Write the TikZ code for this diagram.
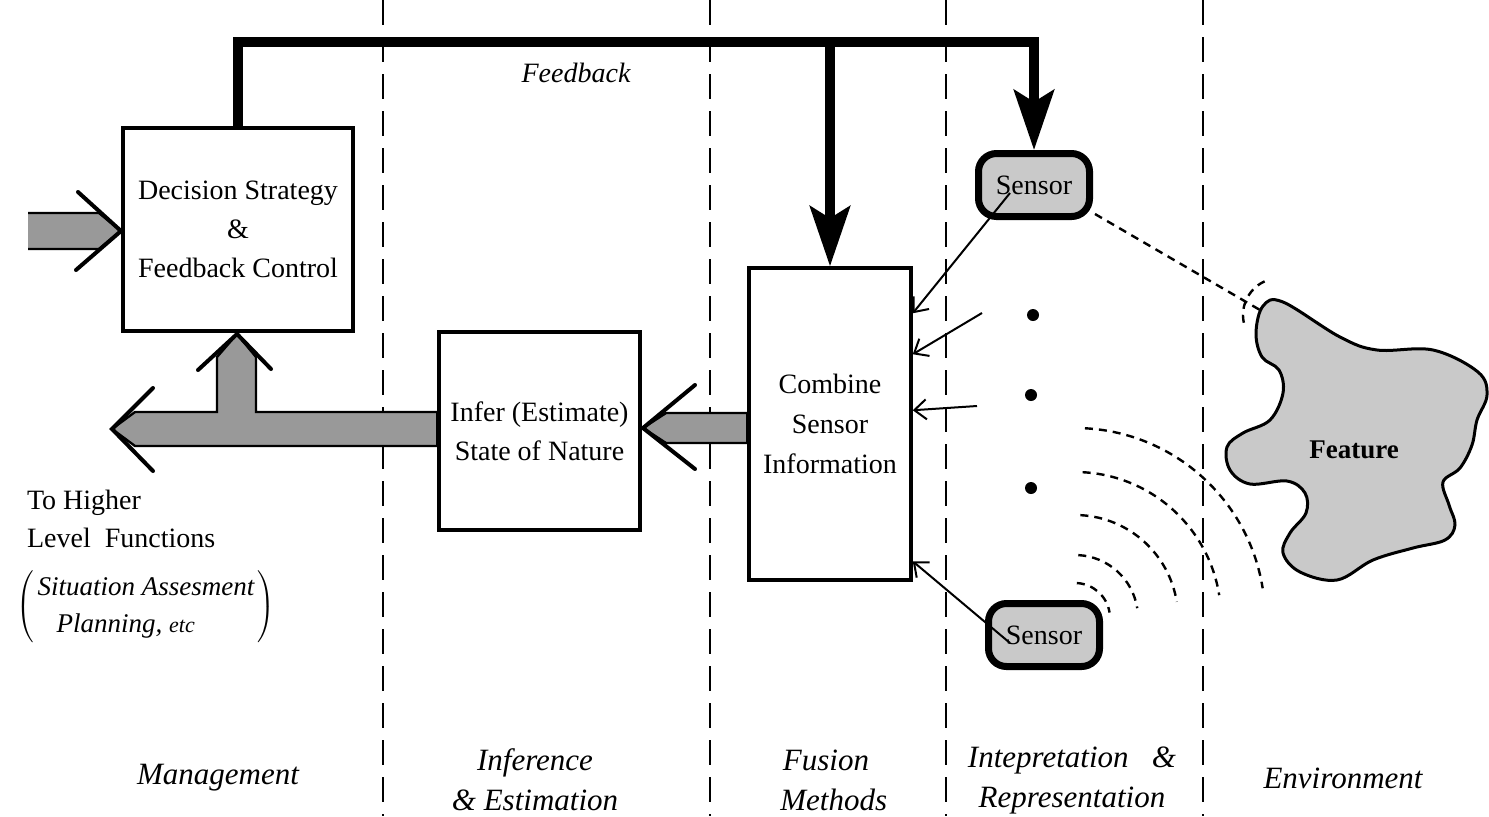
\documentclass[tikz,border=0pt]{standalone}
\usepackage{fontspec}
\setmainfont{Liberation Serif}
\usetikzlibrary{arrows.meta,calc}
\begin{document}
\begin{tikzpicture}[x=0.5pt,y=-0.5pt,
  sep/.style={line width=1.4pt,dash pattern=on 12.5pt off 6pt},
  box/.style={draw,line width=1.75pt,inner sep=0pt,align=center,font=\fontsize{14}{19.5}\selectfont},
  sensorbox/.style={draw,line width=3.5pt,rounded corners=9pt,fill=gray!42,inner sep=0pt,
     minimum width=55.5pt,minimum height=31.5pt,font=\fontsize{14}{16}\selectfont},
  fb/.style={line width=4.6pt,line join=miter,-{Stealth[length=30pt,width=20pt,inset=6pt]}},
  fat/.style={draw=black,line width=1.2pt,fill=gray!80,line join=miter},
  chev/.style={line width=2pt,line cap=round},
  thin/.style={line width=1pt,-{Straight Barb[length=6pt,width=10pt,line width=1pt]}},
  lab/.style={align=center,font=\fontsize{15.5}{20}\selectfont\itshape},
  wave/.style={line width=1.2pt,dash pattern=on 4pt off 3pt}
]
\useasboundingbox (0,0) rectangle (1489,816);

% separators
\foreach \x in {383,710,946,1203} \draw[sep] (\x,0) -- (\x,816);

% boxes
\node[box,minimum width=115pt,minimum height=101.5pt] (D) at (238,229.5)
  {Decision Strategy\\ \&\\ Feedback Control};
\node[box,minimum width=100.5pt,minimum height=99pt] (I) at (539.5,431)
  {Infer (Estimate)\\ State of Nature};
\node[box,minimum width=81pt,minimum height=156pt,font=\fontsize{14}{20}\selectfont] (C) at (830,424)
  {Combine\\ Sensor\\ Information};

% sensors
\node[sensorbox] (S1) at (1034,185) {Sensor};
\node[sensorbox] (S2) at (1044,635) {Sensor};

% feedback
\coordinate (fbL) at (238,42);
\coordinate (fbR) at (1034,42);
\coordinate (fbM) at (830,47);
\draw[fb] (D.north) -- (fbL) -- (fbR) -- (S1.north);
\draw[fb] (fbM) -- (C.north);
\node[font=\fontsize{14}{16}\selectfont\itshape] (fbt) at (576,73) {Feedback};

% fat arrows
\fill[fill=gray!80] (28,213) -- (99,213) -- (121,231) -- (99,249) -- (28,249) -- cycle;
\draw[line width=1.2pt] (28,213) -- (99,213) -- (121,231) -- (99,249) -- (28,249);
\draw[chev] (78,192) -- (121,231) -- (76,270);

\path[fat] (112,429) -- (135,412) -- (217,412) -- (217,357) -- (237,334) -- (256,357)
  -- (256,412) -- (I.west |- 0,412) -- (I.west |- 0,446) -- (135,446) -- cycle;
\draw[chev] (153,388) -- (112,429) -- (153,471);
\draw[chev] (198,370) -- (237,334) -- (271,369);

\path[fat] (C.west |- 0,413) -- (666,413) -- (643,428) -- (666,443) -- (C.west |- 0,443) -- cycle;
\draw[chev] (695,385) -- (643,428) -- (695,469);

% sensor inputs
\coordinate (a1) at (1010,193);
\coordinate (a2) at (982,313);
\coordinate (a3) at (977,406);
\coordinate (a4) at (1010,643);
\draw[thin] (a1) -- ($(C.north east)+(0,47)$);
\draw[thin] (a2) -- ($(C.north east)+(0,88)$);
\draw[thin] (a3) -- ($(C.north east)+(0,144)$);
\draw[thin] (a4) -- ($(C.north east)+(0,295)$);

% dots
\fill (1033,315) circle (3pt);
\fill (1031,395) circle (3pt);
\fill (1031,488) circle (3pt);

% waves
\foreach \r in {35,63,103,146,190}
  \draw[wave] ($(1075,618)+(-87:\r)$) arc[start angle=-87,end angle=-9,radius=\r];

% feature
\draw[line width=1.5pt,fill=gray!42] plot[smooth cycle,tension=0.6] coordinates {
 (1263,306) (1283,302) (1340,337) (1377,350) (1433,350) (1478,372) (1487,395)
 (1477,420) (1472,445) (1460,468) (1443,482) (1449,505) (1455,525) (1445,540)
 (1413,548) (1373,560) (1337,580) (1300,572) (1283,553) (1290,533) (1306,513)
 (1305,493) (1287,481) (1250,484) (1230,470) (1227,447) (1243,433) (1270,420)
 (1283,393) (1279,370) (1262,357) (1256,333)};
\node[font=\fontsize{13.5}{15}\selectfont\bfseries] (F) at (1354,450) {Feature};
\coordinate (ft) at (1260,310);
\draw[wave] ($(S1.south east)+(2,-6)$) -- (ft);
\draw[wave] ($(1280,315)+(168:37)$) arc[start angle=168,end angle=250,radius=37];

% left texts
\node[anchor=west,align=left,font=\fontsize{14}{19}\selectfont] (hl) at (20,519)
  {To Higher\\ Level\ \ Functions};
\node[inner sep=0pt] (hl2) at (146,607) {$\left(\,\vcenter{\hbox{\fontsize{13.5}{18.5}\selectfont\itshape
  \begin{tabular}{@{}l@{}}Situation Assesment\\ \hspace*{9.5pt}Planning, {\fontsize{11}{13}\selectfont etc}\end{tabular}}}\,\right)$};

% bottom labels
\node[lab] (l1) at (218,778) {Management};
\node[lab] (l2) at (535,780) {Inference\\ \& Estimation};
\node[lab] (l3) at (826,780) {Fusion\\ \ \ Methods};
\node[lab] (l4) at (1072,780) {Intepretation\ \ \ \&\\ Representation};
\node[lab] (l5) at (1343,778) {Environment};
\end{tikzpicture}
\end{document}
